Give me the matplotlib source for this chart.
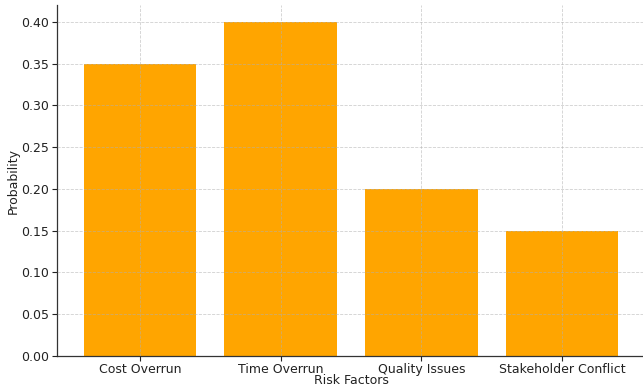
import matplotlib
matplotlib.use("Agg")
import matplotlib.pyplot as plt

risk_factors = ["Cost Overrun", "Time Overrun", "Quality Issues", "Stakeholder Conflict"]
probabilities = [0.35, 0.40, 0.20, 0.15]

W, H = 643, 387
fig = plt.figure(figsize=(W / 100, H / 100), dpi=100)
left, right, top, bottom = 57, 645, 5, 356
ax = fig.add_axes([left / W, (H - bottom) / H, (right - left) / W, (bottom - top) / H])

ax.bar(risk_factors, probabilities, color="orange", width=0.8)
ax.set_ylim(0, 0.42)
ax.set_xlim(-0.59, 3.59)
ax.set_yticks([0.0, 0.05, 0.10, 0.15, 0.20, 0.25, 0.30, 0.35, 0.40])
ax.yaxis.set_major_formatter(matplotlib.ticker.FormatStrFormatter("%.2f"))

ax.grid(True, linestyle="--", linewidth=0.6, color="#b0b0b0", alpha=0.6)
ax.set_axisbelow(False)

ax.tick_params(labelsize=9, colors="#222222", length=3.5)
ax.tick_params(axis="x", pad=1.5)
ax.tick_params(axis="y", pad=2.5)
for lab in ax.get_xticklabels() + ax.get_yticklabels():
    lab.set_color("#222222")
ax.set_xlabel("Risk Factors", fontsize=9, labelpad=-1.5, color="#222222")
ax.set_ylabel("Probability", fontsize=9, labelpad=1, color="#222222")

for side in ("top", "right"):
    ax.spines[side].set_visible(False)
for side in ("left", "bottom"):
    ax.spines[side].set_color("#333333")
    ax.spines[side].set_linewidth(0.9)

fig.savefig("out.png", dpi=100)
